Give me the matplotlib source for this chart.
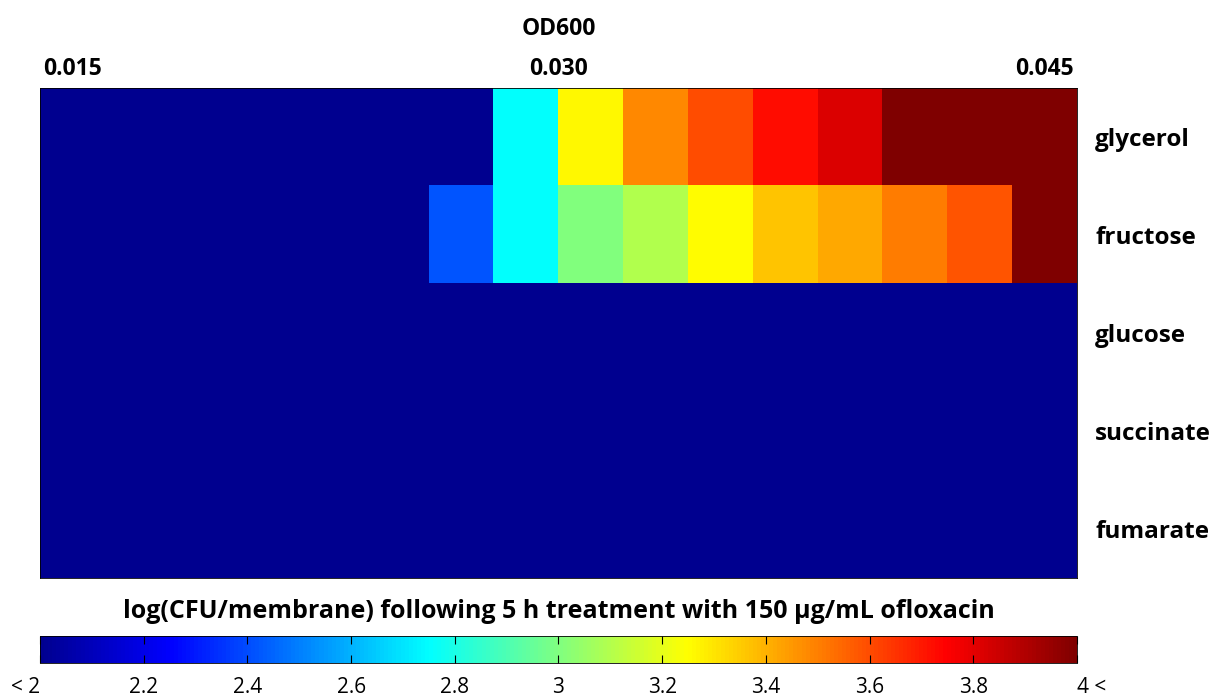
import numpy as np
import matplotlib.pyplot as plt
from matplotlib.colors import LinearSegmentedColormap

# OD600 of each column and carbon sources of each row
od600 = [0.015, 0.017, 0.019, 0.021, 0.023, 0.025, 0.027, 0.029,
         0.031, 0.033, 0.035, 0.037, 0.039, 0.041, 0.043, 0.045]
sources = ["glycerol", "fructose", "glucose", "succinate", "fumarate"]

# log(CFU/membrane); 1.9 stands for values below 2 ("< 2")
glycerol = [1.9, 1.9, 1.9, 1.9, 1.9, 1.9, 1.9, 2.75,
            3.26, 3.48, 3.6, 3.72, 3.82, 4.0, 4.0, 4.0]
fructose = [1.9, 1.9, 1.9, 1.9, 1.9, 1.9, 2.42, 2.75,
            3.0, 3.1, 3.25, 3.36, 3.42, 3.5, 3.58, 4.0]
glucose = [1.9] * 16
succinate = [1.9] * 16
fumarate = [1.9] * 16

x_ticks = [0.015, 0.030, 0.045]
x_ticklabels = ["0.015", "0.030", "0.045"]
cb_ticks = [2, 2.2, 2.4, 2.6, 2.8, 3, 3.2, 3.4, 3.6, 3.8, 4]
cb_ticklabels = ["< 2", "2.2", "2.4", "2.6", "2.8", "3", "3.2", "3.4", "3.6", "3.8", "4 <"]

plt.rcParams['font.family'] = ['Open Sans', 'DejaVu Sans']

# MATLAB style jet
jet_m = LinearSegmentedColormap.from_list("jet_m", [
    (0.0, (0, 0, 0.5625)), (0.125, (0, 0, 1)), (0.375, (0, 1, 1)),
    (0.625, (1, 1, 0)), (0.875, (1, 0, 0)), (1.0, (0.5, 0, 0))])

data = np.array([glycerol, fructose, glucose, succinate, fumarate])
step = od600[1] - od600[0]

fig = plt.figure(figsize=(12.12, 6.96), dpi=100)
ax = fig.add_axes([0.033, 0.1695, 0.8556, 0.7041])
im = ax.imshow(data, cmap=jet_m, vmin=2, vmax=4, aspect='auto',
               interpolation='nearest',
               extent=[od600[0] - step / 2, od600[-1] + step / 2, len(sources) - 0.5, -0.5])

ax.xaxis.tick_top()
ax.set_xticks(x_ticks)
ax.set_xticklabels(x_ticklabels, fontsize=16.5, fontweight='bold')
ax.tick_params(axis='x', length=0, pad=5)
ax.set_xlabel("OD600", fontsize=16.5, fontweight='bold', labelpad=16)
ax.xaxis.set_label_position('top')

ax.yaxis.tick_right()
ax.set_yticks(range(len(sources)))
ax.set_yticklabels(sources, fontsize=17.5, fontweight='bold')
ax.tick_params(axis='y', length=0, pad=13)
for s in ax.spines.values():
    s.set_linewidth(0.6)

cax = fig.add_axes([0.033, 0.0474, 0.8556, 0.0388])
cb = fig.colorbar(im, cax=cax, orientation='horizontal')
cb.set_ticks(cb_ticks)
cb.set_ticklabels(cb_ticklabels)
cax.tick_params(axis='x', direction='in', length=6, width=0.8, labelsize=15,
                top=True, pad=10)
labels = cax.get_xticklabels()
labels[0].set_horizontalalignment('right')
labels[-1].set_horizontalalignment('left')
cb.outline.set_linewidth(0.6)
cax.xaxis.set_label_position('top')
cax.set_xlabel("log(CFU/membrane) following 5 h treatment with 150 µg/mL ofloxacin",
               fontsize=18, fontweight='bold', labelpad=13)

fig.savefig("out.png", dpi=100)
